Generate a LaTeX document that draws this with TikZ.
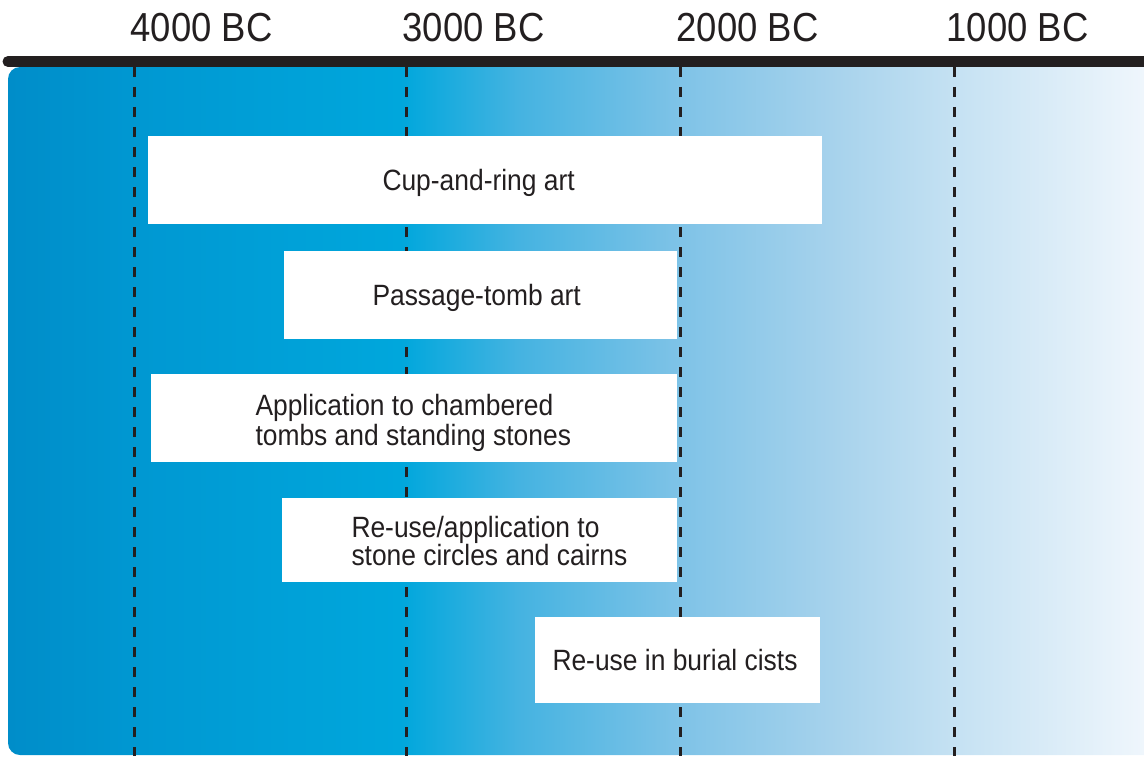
\documentclass[tikz,border=0pt]{standalone}
\usepackage{fontspec}
\setmainfont{Liberation Sans}[FakeStretch=0.9]

\definecolor{ink}{HTML}{231F20}
\definecolor{bandA}{HTML}{008DC9}
\definecolor{bandB}{HTML}{0098D2}
\definecolor{bandC}{HTML}{00A7DC}
\definecolor{bandD}{HTML}{45B3E1}
\definecolor{bandE}{HTML}{7FC3E7}
\definecolor{bandF}{HTML}{A6D2EC}
\definecolor{bandG}{HTML}{C6E2F3}
\definecolor{bandH}{HTML}{EFF6FC}

\pgfdeclarehorizontalshading{eraband}{100bp}{color(0bp)=(bandA); color(25bp)=(bandA); color(30.8bp)=(bandB); color(42.3bp)=(bandC); color(47.5bp)=(bandD); color(54.6bp)=(bandE); color(61.2bp)=(bandF); color(66.9bp)=(bandG); color(75bp)=(bandH); color(100bp)=(bandH)}

\tikzset{every picture/.style={line width=0.75pt}}
\tikzset{
  era label/.style={anchor=base west, inner sep=0pt, text=ink, font=\fontsize{30.4}{32}\selectfont},
  box text/.style={anchor=base west, inner sep=0pt, text=ink, align=left, font=\fontsize{22}{22.5}\selectfont},
  era line/.style={draw=ink, line width=2.25pt, dash pattern=on 7.5pt off 7.5pt},
}

\begin{document}
\begin{tikzpicture}[x=0.75pt,y=0.75pt,yscale=-1,xscale=1]
\useasboundingbox (0,0) rectangle (1144,756);

%Shape: Band
\shade [shading=eraband] (1144,67) [rounded corners=9pt] -- (8,67) -- (8,755) [sharp corners] -- (1144,755) -- cycle ;
%Straight Lines: time axis
\draw [ink, line width=8.25pt, line cap=round] (8,61.5) -- (1144,61.5) ;

%Straight Lines
\draw [era line] (134,67) -- (134,756) ;
%Straight Lines
\draw [era line] (406,67) -- (406,756) ;
%Straight Lines
\draw [era line] (680,67) -- (680,756) ;
%Straight Lines
\draw [era line] (954,67) -- (954,756) ;

%Shape: Rectangle
\fill [white] (148,136) -- (822,136) -- (822,224) -- (148,224) -- cycle ;
%Shape: Rectangle
\fill [white] (284,251) -- (677,251) -- (677,339) -- (284,339) -- cycle ;
%Shape: Rectangle
\fill [white] (151,374) -- (677,374) -- (677,462) -- (151,462) -- cycle ;
%Shape: Rectangle
\fill [white] (282,498) -- (677,498) -- (677,582) -- (282,582) -- cycle ;
%Shape: Rectangle
\fill [white] (535,617) -- (820,617) -- (820,703) -- (535,703) -- cycle ;

% Text Node
\draw (130,42) node [era label] (bc4000) {4000 BC};
% Text Node
\draw (402,42) node [era label] (bc3000) {3000 BC};
% Text Node
\draw (676,42) node [era label] (bc2000) {2000 BC};
% Text Node
\draw (946,42) node [era label] (bc1000) {1000 BC};

% Text Node
\draw (382,190) node [box text] (cupring) {Cup-and-ring art};
% Text Node
\draw (372,305) node [box text] (passage) {Passage-tomb art};
% Text Node
\draw (255,445) node [box text] (chambered) {Application to chambered\\tombs and standing stones};
% Text Node
\draw (351,565) node [box text, font=\fontsize{22}{21}\selectfont] (circles) {Re-use/application to\\stone circles and cairns};
% Text Node
\draw (552,670) node [box text] (cists) {Re-use in burial cists};

\end{tikzpicture}
\end{document}
